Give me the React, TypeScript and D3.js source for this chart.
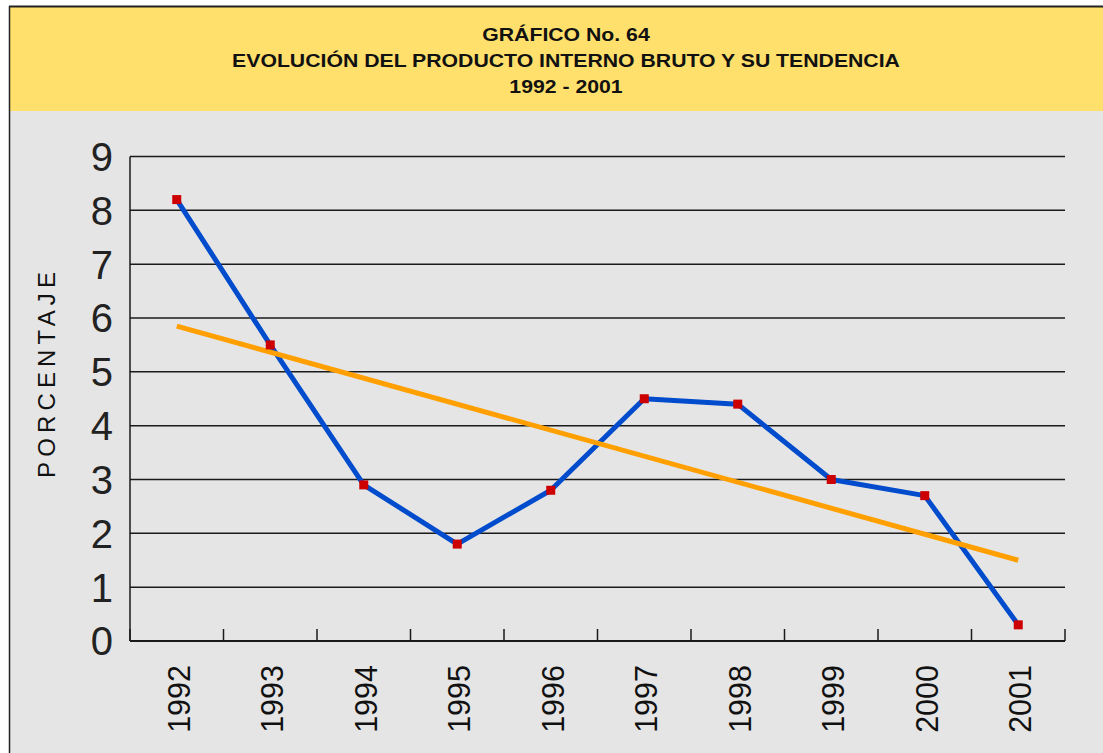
import React from "react";
import * as d3 from "d3";

const years = ["1992", "1993", "1994", "1995", "1996", "1997", "1998", "1999", "2000", "2001"];
const pib = [8.2, 5.5, 2.9, 1.8, 2.8, 4.5, 4.4, 3.0, 2.7, 0.3];
// trend line, read at its two ends (first and last year)
const trendYears = ["1992", "2001"];
const trendValues = [5.85, 1.5];
const yTicks = [0, 1, 2, 3, 4, 5, 6, 7, 8, 9];
const titleLines = [
  "GRÁFICO No. 64",
  "EVOLUCIÓN DEL PRODUCTO INTERNO BRUTO Y SU TENDENCIA",
  "1992 - 2001",
];

const W = 1103;
const H = 753;
const left = 130;
const right = 1065;
const top = 156.5;
const bottom = 641;
const font = "'Liberation Sans', Arial, Helvetica, sans-serif";

export default function App() {
  const x = d3.scaleBand().domain(years).range([left, right]).padding(0);
  const y = d3.scaleLinear().domain([0, 9]).range([bottom, top]);
  const cx = (yr: string) => (x(yr) as number) + x.bandwidth() / 2;

  const line = d3
    .line<number>()
    .x((_, i) => cx(years[i]))
    .y((v) => y(v));
  const trend = d3
    .line<number>()
    .x((_, i) => cx(trendYears[i]))
    .y((v) => y(v));

  // tick marks sit on the band edges
  const edges = years.map((yr) => x(yr) as number).concat([right]);

  return (
    <>
      <style>{"body{margin:0}"}</style>
      <svg width={W} height={H} style={{ display: "block" }} fontFamily={font}>
        <rect x={0} y={0} width={W} height={H} fill="#fff" />
        <rect x={9} y={6} width={W} height={H} fill="#e5e5e5" />
        <rect x={9} y={6} width={W} height={105} fill="#ffe06c" />
        <line x1={9} x2={W} y1={6.5} y2={6.5} stroke="#222" strokeWidth={1.8} />
        <line x1={9.5} x2={9.5} y1={6} y2={H} stroke="#222" strokeWidth={1.5} />

        {/* title is set a bit wide, like the original */}
        <g transform="translate(566,0) scale(1.18,1)">
          {titleLines.map((t, i) => (
            <text
              key={t}
              x={0}
              y={41 + i * 26}
              textAnchor="middle"
              fontSize={18}
              fontWeight="bold"
              fill="#111"
            >
              {t}
            </text>
          ))}
        </g>

        {/* grid */}
        {yTicks.slice(1).map((t) => (
          <line key={t} x1={left} x2={right} y1={y(t)} y2={y(t)} stroke="#1a1a1a" strokeWidth={1.5} />
        ))}
        <line x1={left} x2={left} y1={top} y2={bottom} stroke="#1a1a1a" strokeWidth={1.5} />
        <line x1={left} x2={right} y1={bottom} y2={bottom} stroke="#1a1a1a" strokeWidth={1.8} />
        {edges.map((e, i) => (
          <line key={i} x1={e} x2={e} y1={bottom} y2={bottom - 12} stroke="#1a1a1a" strokeWidth={1.5} />
        ))}

        {yTicks.map((t) => (
          <text key={t} x={113} y={y(t)} dy="0.36em" textAnchor="end" fontSize={40} fill="#222">
            {t}
          </text>
        ))}

        {years.map((yr) => (
          <text
            key={yr}
            transform={`translate(${cx(yr) + 13},665) rotate(-90)`}
            textAnchor="end"
            fontSize={30.5}
            fill="#111"
          >
            {yr}
          </text>
        ))}

        <text
          transform="translate(55,375) rotate(-90)"
          textAnchor="middle"
          fontSize={24}
          textLength={206}
          lengthAdjust="spacing"
          fill="#111"
        >
          PORCENTAJE
        </text>

        <path d={line(pib) || ""} fill="none" stroke="#004ccc" strokeWidth={5} strokeLinejoin="round" />
        <path d={trend(trendValues) || ""} fill="none" stroke="#ffa000" strokeWidth={5} />
        {pib.map((v, i) => (
          <rect key={i} x={cx(years[i]) - 4.5} y={y(v) - 4.5} width={9} height={9} fill="#cc0000" />
        ))}
      </svg>
    </>
  );
}
